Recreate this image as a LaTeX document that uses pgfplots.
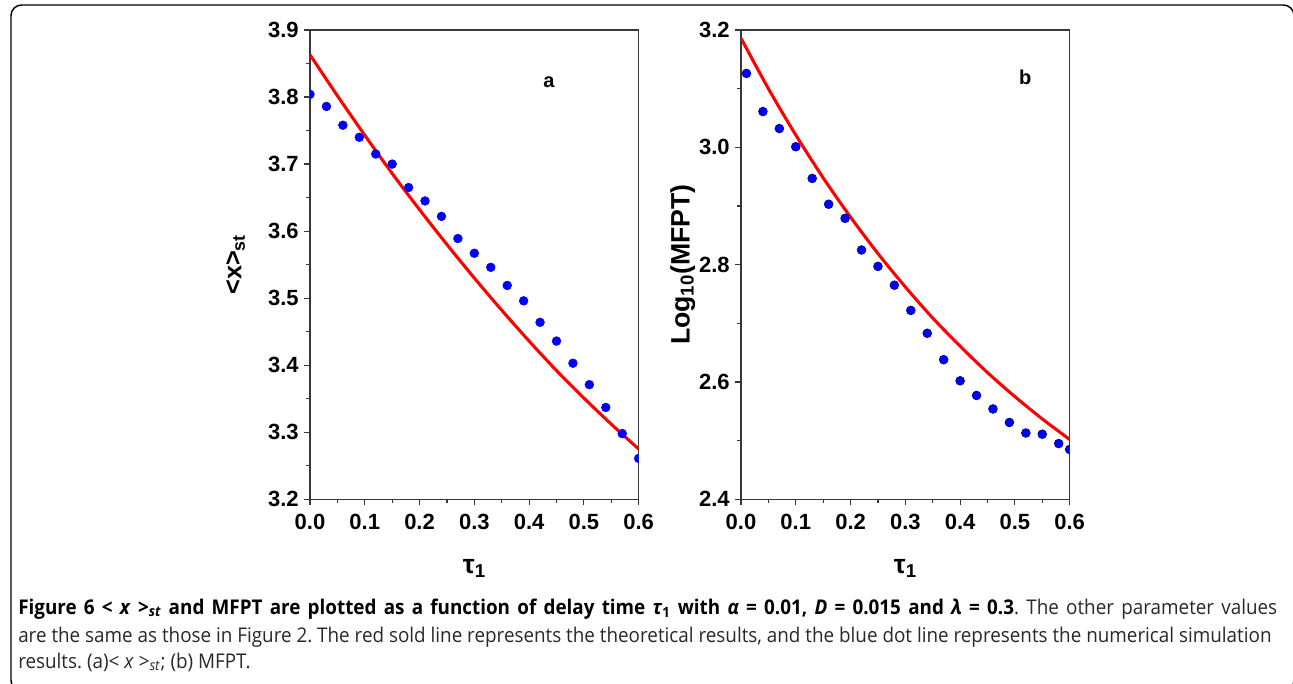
\documentclass[border=0pt]{standalone}
\usepackage{fontspec}
\setmainfont{Liberation Sans}
\newfontfamily\capfont[FakeStretch=0.93]{Open Sans}
\usepackage{pgfplots}
\pgfplotsset{compat=1.18}
\definecolor{axgray}{RGB}{55,55,55}
\definecolor{capgray}{RGB}{40,40,40}

\pgfplotsset{
  panel/.style={
    scale only axis, width=246.5pt, height=351.975pt,
    xmin=0, xmax=0.6, xtick={0,0.1,0.2,0.3,0.4,0.5,0.6}, minor x tick num=1,
    minor y tick num=1,
    tick align=outside, xtick pos=bottom, ytick pos=left,
    major tick length=4.5pt, minor tick length=2.8pt,
    axis line style={axgray, line width=1.1pt},
    every tick/.style={axgray, line width=0.9pt},
    tick label style={font=\fontsize{16.5}{17}\selectfont\bfseries},
    /pgf/number format/assume math mode=true,
    xticklabel style={yshift=-3.2pt, /pgf/number format/fixed, /pgf/number format/fixed zerofill, /pgf/number format/precision=1},
    yticklabel style={xshift=-0.5pt, /pgf/number format/fixed, /pgf/number format/fixed zerofill, /pgf/number format/precision=1},
    xlabel={\fontsize{20}{20}\selectfont\bfseries τ\textsubscript{1}},
    xlabel style={at={(axis description cs:0.5,-0.147)}, anchor=center},
    clip marker paths=true,
  },
  theory/.style={red, line width=2.3pt, smooth, no marks},
  simul/.style={only marks, mark=*, mark size=3.3pt},
}

\begin{document}
\frenchspacing
\begin{tikzpicture}
\path[use as bounding box] (0,0) rectangle (969.75pt,512.25pt);
\draw[black, line width=1.1pt, rounded corners=8pt] (8.25pt,508.5pt) -- (970.5pt,508.5pt) -- (970.5pt,-6pt) -- (8.25pt,-6pt) -- cycle;

% panel a
\begin{axis}[panel, at={(232.5pt,137.775pt)}, anchor=south west,
  ymin=3.2, ymax=3.9, ytick={3.2,3.3,3.4,3.5,3.6,3.7,3.8,3.9},
  ylabel={\fontsize{19}{19}\selectfont\bfseries <x>\textsubscript{st}},
  ylabel style={at={(axis description cs:-0.183,0.5)}, anchor=south},
]
\addplot[theory] coordinates {
(0,3.863) (0.05,3.802) (0.10,3.743) (0.15,3.686) (0.20,3.632) (0.25,3.580)
(0.30,3.530) (0.35,3.482) (0.40,3.436) (0.45,3.392) (0.50,3.351) (0.55,3.312) (0.60,3.275)
};
\addplot[simul, mark options={fill=blue, draw=blue}] coordinates {
(0,3.804) (0.03,3.786) (0.06,3.758) (0.09,3.740) (0.12,3.715) (0.15,3.700)
(0.18,3.665) (0.21,3.645) (0.24,3.622) (0.27,3.589) (0.30,3.567) (0.33,3.546)
(0.36,3.519) (0.39,3.496) (0.42,3.464) (0.45,3.436) (0.48,3.403) (0.51,3.371)
(0.54,3.337) (0.57,3.298) (0.60,3.261)
};
\node[font=\fontsize{15}{15}\selectfont\bfseries] at (axis cs:0.436,3.822) {a};
\end{axis}

% panel b
\begin{axis}[panel, at={(555.75pt,137.775pt)}, anchor=south west,
  ymin=2.4, ymax=3.2, ytick={2.4,2.6,2.8,3.0,3.2},
  ylabel={\fontsize{20}{20}\selectfont\bfseries Log\textsubscript{10}(MFPT)},
  ylabel style={at={(axis description cs:-0.125,0.5)}, anchor=south},
]
\addplot[theory] coordinates {
(0,3.186) (0.05,3.100) (0.10,3.021) (0.15,2.948) (0.20,2.881) (0.25,2.819)
(0.30,2.762) (0.35,2.709) (0.40,2.661) (0.45,2.616) (0.50,2.575) (0.55,2.537) (0.60,2.502)
};
\addplot[simul, mark options={fill=blue, draw=blue!55!black, line width=0.5pt}] coordinates {
(0.01,3.126) (0.04,3.061) (0.07,3.032) (0.10,3.001) (0.13,2.947) (0.16,2.903)
(0.19,2.879) (0.22,2.825) (0.25,2.797) (0.28,2.765) (0.31,2.722) (0.34,2.683)
(0.37,2.638) (0.40,2.602) (0.43,2.577) (0.46,2.554) (0.49,2.531) (0.52,2.513)
(0.55,2.511) (0.58,2.495) (0.60,2.485)
};
\node[font=\fontsize{15}{15}\selectfont\bfseries] at (axis cs:0.519,3.12) {b};
\end{axis}

% caption
\begin{scope}[every node/.style={inner sep=0pt, anchor=base west, text=capgray, font=\capfont\fontsize{15.2}{18}\selectfont\frenchspacing}]
\node at (13.5pt,51.75pt) {\makebox[944.25pt][s]{\textbf{\color{black}Figure 6 < \textit{x} >\textsubscript{\textit{st}} and MFPT are plotted as a function of delay time \textit{τ}\textsubscript{1} with \textit{α} = 0.01, \textit{D} = 0.015 and \textit{λ} = 0.3}. The other parameter values}};
\node at (13.5pt,30.75pt) {\makebox[940pt][s]{are the same as those in Figure 2. The red sold line represents the theoretical results, and the blue dot line represents the numerical simulation}};
\node at (13.5pt,11.25pt) {results. (a)< \textit{x} >\textsubscript{\textit{st}}; (b) MFPT.};
\end{scope}
\end{tikzpicture}
\end{document}
